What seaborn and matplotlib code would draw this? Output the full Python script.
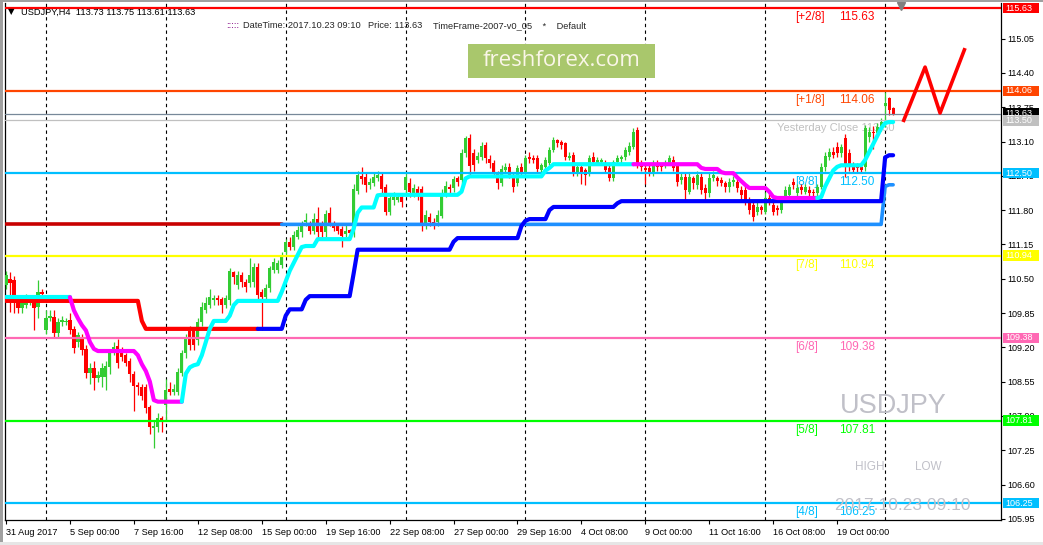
import numpy as np
import seaborn as sns
import matplotlib
matplotlib.use("Agg")
import matplotlib.pyplot as plt
from matplotlib.patches import Rectangle
import matplotlib.transforms as mtransforms

# USDJPY H4 bars, 31 Aug 2017 08:00 .. 23 Oct 2017 08:00 (index = bar number)
opens = [
    110.38, 110.49, 110.47, 110.13, 109.94, 110.00, 110.04, 110.13, 109.96, 110.25,
    109.53, 109.76, 109.78, 109.47, 109.68, 109.68, 109.72, 109.55, 109.30, 109.38,
    109.17, 108.71, 108.81, 108.62, 108.64, 108.64, 108.83, 109.15, 109.22, 109.15,
    109.05, 108.94, 108.69, 108.49, 108.45, 108.45, 108.07, 107.67, 107.69, 107.86,
    108.11, 108.41, 108.35, 108.35, 108.71, 109.09, 109.51, 109.53, 109.34, 109.68,
    109.91, 110.00, 110.10, 110.13, 110.12, 110.00, 110.10, 110.63, 110.38, 110.57,
    110.44, 110.42, 110.44, 110.72, 110.25, 110.15, 110.32, 110.66, 110.66, 110.76,
    111.01, 111.20, 111.10, 111.29, 111.38, 111.57, 111.50, 111.40, 111.63, 111.52,
    111.38, 111.74, 111.56, 111.50, 111.44, 111.35, 111.42, 111.36, 112.16, 112.45,
    112.43, 112.27, 112.31, 112.41, 112.45, 112.24, 111.76, 111.99, 111.99, 112.05,
    112.18, 112.31, 112.12, 112.20, 112.20, 111.56, 111.67, 111.57, 111.57, 111.69,
    112.10, 112.24, 112.22, 112.41, 112.37, 112.88, 113.17, 112.88, 112.75, 112.80,
    113.03, 112.77, 112.69, 112.50, 112.31, 112.56, 112.62, 112.46, 112.31, 112.62,
    112.50, 112.81, 112.79, 112.79, 112.56, 112.62, 112.69, 112.94, 113.13, 113.09,
    113.07, 112.79, 112.84, 112.52, 112.62, 112.56, 112.50, 112.81, 112.69, 112.71,
    112.69, 112.60, 112.41, 112.71, 112.77, 112.81, 112.90, 112.99, 113.32, 112.69,
    112.60, 112.60, 112.52, 112.69, 112.69, 112.65, 112.69, 112.75, 112.65, 112.37,
    112.43, 112.14, 112.41, 112.27, 112.43, 112.22, 112.12, 112.41, 112.41, 112.37,
    112.31, 112.24, 112.33, 112.33, 112.18, 112.18, 111.99, 111.90, 111.76, 111.86,
    111.76, 112.03, 111.90, 111.84, 111.80, 111.99, 112.09, 112.33, 112.12, 112.24,
    112.14, 112.18, 112.14, 112.12, 112.24, 112.62, 112.80, 112.90, 112.99, 112.88,
    113.17, 112.88, 112.65, 112.65, 112.62, 112.62, 113.18, 113.28, 113.26, 113.36,
    113.77, 113.92, 113.73,
]
highs = [
    110.65, 110.63, 110.55, 110.20, 110.20, 110.22, 110.15, 110.18, 110.47, 110.30,
    109.90, 109.90, 109.90, 109.75, 109.80, 109.75, 109.85, 109.60, 109.50, 109.45,
    109.25, 108.90, 108.95, 108.75, 108.90, 108.95, 109.15, 109.30, 109.35, 109.20,
    109.10, 109.00, 108.75, 108.55, 108.50, 108.50, 108.10, 107.80, 107.95, 107.90,
    108.60, 108.55, 108.50, 108.80, 109.15, 109.45, 109.60, 109.55, 109.75, 110.05,
    110.15, 110.30, 110.20, 110.20, 110.15, 110.20, 110.70, 110.65, 110.65, 110.62,
    110.50, 110.90, 110.80, 110.80, 110.30, 110.40, 110.75, 110.90, 110.85, 111.00,
    111.25, 111.30, 111.40, 111.50, 111.60, 111.75, 111.60, 111.75, 111.86, 111.60,
    111.80, 111.85, 111.60, 111.55, 111.50, 111.55, 111.45, 112.30, 112.55, 112.62,
    112.50, 112.40, 112.50, 112.55, 112.50, 112.30, 112.10, 112.15, 112.12, 112.10,
    112.50, 112.40, 112.30, 112.25, 112.25, 111.80, 111.75, 111.65, 111.80, 112.20,
    112.35, 112.30, 112.45, 112.45, 112.95, 113.20, 113.24, 112.95, 112.90, 113.10,
    113.10, 112.85, 112.75, 112.55, 112.65, 112.70, 112.70, 112.50, 112.65, 112.70,
    112.85, 112.90, 112.85, 112.85, 112.70, 112.80, 113.00, 113.18, 113.15, 113.12,
    113.10, 112.90, 112.90, 112.70, 112.70, 112.60, 112.85, 112.90, 112.80, 112.78,
    112.75, 112.65, 112.75, 112.85, 112.85, 113.00, 113.10, 113.35, 113.38, 112.75,
    112.65, 112.65, 112.75, 112.75, 112.70, 112.75, 112.85, 112.82, 112.70, 112.50,
    112.50, 112.50, 112.45, 112.55, 112.50, 112.30, 112.50, 112.55, 112.45, 112.42,
    112.35, 112.40, 112.45, 112.40, 112.25, 112.25, 112.05, 111.95, 111.95, 111.90,
    112.15, 112.10, 111.95, 111.90, 112.05, 112.25, 112.30, 112.40, 112.30, 112.30,
    112.30, 112.25, 112.20, 112.30, 112.70, 112.90, 112.98, 113.00, 113.10, 113.05,
    113.25, 112.95, 112.72, 112.70, 112.68, 113.42, 113.38, 113.40, 113.45, 113.55,
    114.03, 113.95, 113.75,
]
lows = [
    110.30, 109.87, 109.85, 109.85, 109.85, 109.95, 110.00, 109.53, 109.75, 110.15,
    109.45, 109.70, 109.40, 109.40, 109.60, 109.62, 109.45, 109.10, 109.20, 109.05,
    108.62, 108.50, 108.40, 108.55, 108.45, 108.40, 108.70, 109.05, 108.80, 108.95,
    108.85, 108.55, 108.00, 108.30, 108.20, 107.95, 107.55, 107.30, 107.60, 107.60,
    107.80, 108.30, 108.30, 108.30, 108.65, 109.00, 109.15, 109.15, 109.25, 109.60,
    109.85, 109.95, 110.00, 110.00, 109.85, 109.95, 110.00, 110.40, 110.30, 110.35,
    110.25, 110.35, 110.35, 110.10, 109.53, 110.05, 110.25, 110.60, 110.60, 110.70,
    110.95, 111.05, 111.05, 111.25, 111.30, 111.50, 111.35, 111.35, 111.30, 111.30,
    111.30, 111.50, 111.40, 111.35, 111.10, 111.30, 111.30, 111.30, 112.10, 112.30,
    112.15, 112.20, 112.25, 112.35, 112.10, 111.70, 111.70, 111.90, 111.95, 111.85,
    112.10, 112.05, 112.05, 112.00, 111.40, 111.45, 111.50, 111.45, 111.50, 111.65,
    112.05, 112.10, 112.15, 112.25, 112.30, 112.80, 112.45, 112.55, 112.70, 112.75,
    112.70, 112.60, 112.45, 112.20, 112.25, 112.50, 112.40, 112.15, 112.25, 112.45,
    112.45, 112.70, 112.70, 112.50, 112.50, 112.55, 112.65, 112.90, 113.00, 112.95,
    112.75, 112.75, 112.45, 112.45, 112.30, 112.27, 112.45, 112.65, 112.65, 112.68,
    112.50, 112.35, 112.35, 112.65, 112.70, 112.75, 112.85, 112.95, 112.60, 112.55,
    112.30, 112.45, 112.45, 112.55, 112.55, 112.60, 112.65, 112.55, 112.25, 112.30,
    111.98, 112.10, 112.20, 112.20, 112.10, 112.00, 112.05, 112.35, 112.25, 112.25,
    112.15, 112.15, 112.25, 112.15, 112.00, 111.90, 111.72, 111.60, 111.70, 111.72,
    111.72, 111.90, 111.70, 111.70, 111.75, 111.95, 112.05, 112.20, 112.05, 112.10,
    112.10, 112.05, 112.05, 112.05, 112.20, 112.55, 112.75, 112.78, 112.80, 112.80,
    112.42, 112.55, 112.50, 112.52, 112.50, 112.55, 113.10, 112.95, 113.20, 113.30,
    113.37, 113.60, 113.61,
]
closes = [
    110.57, 110.42, 110.04, 109.94, 110.10, 110.12, 110.10, 109.94, 110.25, 110.21,
    109.76, 109.80, 109.47, 109.68, 109.72, 109.70, 109.53, 109.19, 109.43, 109.15,
    108.71, 108.81, 108.62, 108.67, 108.81, 108.85, 109.09, 109.20, 108.90, 109.02,
    108.90, 108.69, 108.47, 108.45, 108.28, 108.05, 107.69, 107.71, 107.86, 107.82,
    108.39, 108.35, 108.41, 108.73, 109.09, 109.38, 109.24, 109.24, 109.68, 109.96,
    110.04, 110.15, 110.13, 110.10, 110.00, 110.13, 110.64, 110.53, 110.57, 110.44,
    110.34, 110.57, 110.72, 110.19, 110.15, 110.32, 110.70, 110.82, 110.80, 110.93,
    111.20, 111.10, 111.33, 111.42, 111.50, 111.61, 111.40, 111.63, 111.38, 111.38,
    111.72, 111.56, 111.46, 111.40, 111.31, 111.40, 111.36, 112.20, 112.46, 112.39,
    112.27, 112.33, 112.43, 112.46, 112.20, 111.76, 112.03, 112.05, 112.05, 111.95,
    112.43, 112.14, 112.22, 112.09, 111.56, 111.71, 111.57, 111.56, 111.71, 112.12,
    112.26, 112.20, 112.39, 112.33, 112.88, 113.17, 112.64, 112.65, 112.82, 113.01,
    112.79, 112.69, 112.50, 112.31, 112.58, 112.62, 112.46, 112.24, 112.60, 112.50,
    112.79, 112.77, 112.75, 112.58, 112.65, 112.75, 112.94, 113.13, 113.07, 113.03,
    112.81, 112.82, 112.50, 112.62, 112.50, 112.46, 112.79, 112.71, 112.75, 112.75,
    112.56, 112.41, 112.71, 112.79, 112.81, 112.94, 113.01, 113.28, 112.69, 112.62,
    112.56, 112.52, 112.65, 112.62, 112.62, 112.69, 112.79, 112.60, 112.33, 112.43,
    112.18, 112.43, 112.31, 112.46, 112.18, 112.12, 112.41, 112.46, 112.35, 112.31,
    112.24, 112.33, 112.37, 112.22, 112.09, 111.99, 111.80, 111.67, 111.86, 111.80,
    112.03, 111.95, 111.76, 111.80, 111.99, 112.18, 112.24, 112.27, 112.22, 112.18,
    112.24, 112.12, 112.12, 112.24, 112.62, 112.82, 112.90, 112.84, 112.88, 112.99,
    112.62, 112.62, 112.56, 112.60, 112.56, 113.36, 113.28, 113.26, 113.37, 113.47,
    113.83, 113.70, 113.63,
]

# cyan / magenta trailing line
trail = ([110.15] * 16 + [110.15, 109.90, 109.75, 109.62, 109.52, 109.30, 109.17]
         + [109.13] * 10 + [109.05, 108.88, 108.75, 108.55, 108.20] + [108.17] * 7
         + [108.70, 108.82, 108.86, 108.88, 109.05, 109.30, 109.55] + [109.70] * 4
         + [109.80, 110.00] + [110.08] * 11
         + [110.25, 110.45, 110.65, 110.80, 110.95, 111.10] + [111.12] * 3
         + [111.25] * 9 + [111.45, 111.75] + [111.85] * 4 + [112.08] + [112.09] * 20
         + [112.15, 112.40] + [112.44] * 19 + [112.55, 112.60] + [112.67] * 37
         + [112.60] + [112.58] * 4 + [112.52] + [112.50] * 3 + [112.42, 112.35, 112.28]
         + [112.22] * 5 + [112.15, 112.05] + [112.03] * 11
         + [112.05, 112.25, 112.40, 112.55, 112.62] + [112.65] * 6
         + [112.75, 112.90, 113.05, 113.20, 113.35, 113.45, 113.47, 113.47])
trail_switch = [16, 44, 157, 203]          # bars where the line changes colour
trail_colors = ["#00FFFF", "#FF00FF"]      # up, down

# red / blue trend line
trend = ([110.08] * 34 + [109.70] + [109.55] * 29 + [109.55] * 6 + [109.80]
         + [109.92] * 4 + [110.10] + [110.17] * 11 + [110.60] + [111.05] * 24
         + [111.20] + [111.27] * 16 + [111.50, 111.60] + [111.63] * 5 + [111.80]
         + [111.86] * 16 + [111.93] + [111.97] * 66 + [112.80, 112.84, 112.84])
trend_switch = 63

# dark red / dodger blue support line
support = [111.53] * 220 + [112.25, 112.28, 112.28]
support_switch = 69

# Murrey math levels
mm_names = ["[+2/8]", "[+1/8]", "[8/8]", "[7/8]", "[6/8]", "[5/8]", "[4/8]"]
mm_levels = [115.63, 114.06, 112.50, 110.94, 109.38, 107.81, 106.25]
mm_colors = ["#FF0000", "#FF4500", "#00BFFF", "#FFFF00", "#FF69B4", "#00FF00", "#00BFFF"]

bid_price = 113.63
yesterday_close = 113.50

y_ticks = [105.95, 106.60, 107.25, 107.90, 108.55, 109.20, 109.85, 110.50,
           111.15, 111.80, 112.45, 113.10, 113.75, 114.40, 115.05]
x_tick_bars = [0, 16, 32, 48, 64, 80, 96, 112, 128, 144, 160, 176, 192, 208]
x_tick_labels = ["31 Aug 2017", "5 Sep 00:00", "7 Sep 16:00", "12 Sep 08:00",
                 "15 Sep 00:00", "19 Sep 16:00", "22 Sep 08:00", "27 Sep 00:00",
                 "29 Sep 16:00", "4 Oct 08:00", "9 Oct 00:00", "11 Oct 16:00",
                 "16 Oct 08:00", "19 Oct 00:00"]
week_starts = [10, 40, 70, 100, 130, 160, 190, 220]

# hand drawn forecast zigzag
zig_x = [224.5, 230.0, 233.75, 240.0]
zig_y = [113.47, 114.51, 113.64, 114.87]

# ---------------------------------------------------------------------------
sns.set_style("white", rc={"axes.edgecolor": "black", "xtick.color": "black",
                           "ytick.color": "black"})
plt.rcParams["font.family"] = ["Liberation Sans", "DejaVu Sans"]

W, H = 1043, 545
fig = plt.figure(figsize=(W / 100, H / 100), dpi=100)
ax = fig.add_axes([5 / W, 25 / H, 996 / W, 517 / H])

def fpx(x, y):
    return x / W, 1 - y / H

o = np.array(opens); h = np.array(highs); l = np.array(lows); c = np.array(closes)
idx = np.arange(len(o))
up = c >= o
ccol = np.where(up, "#33CC33", "#FF0000")

# separators
for b in week_starts:
    ax.axvline(b, color="black", lw=0.8, ls=(0, (3, 3)), zorder=1)

# candles
ax.vlines(idx, np.minimum(l, np.minimum(o, c)), np.maximum(h, np.maximum(o, c)),
          colors=ccol, lw=0.9, zorder=3)
body = np.maximum(np.abs(c - o), 0.02)
ax.bar(idx, body, bottom=np.minimum(o, c), width=0.8, color=ccol, lw=0, zorder=3)

# horizontal levels
for lv, col in zip(mm_levels, mm_colors):
    ax.axhline(lv, color=col, lw=1.6, zorder=4)
ax.axhline(bid_price, color="#778899", lw=0.9, zorder=4)
ax.axhline(yesterday_close, color="#C0C0C0", lw=0.9, zorder=4)

def two_colour(vals, switches, colours, lw, z):
    bounds = [0] + list(switches) + [len(vals) - 1]
    for k in range(len(bounds) - 1):
        a, b = bounds[k], bounds[k + 1]
        sns.lineplot(x=idx[a:b + 1], y=vals[a:b + 1], color=colours[k % 2],
                     lw=lw, ax=ax, zorder=z)

two_colour(np.array(support), [support_switch], ["#C80000", "#1E90FF"], 2.6, 5)
two_colour(np.array(trend), [trend_switch], ["#FF0000", "#0000FF"], 3.0, 5)
two_colour(np.array(trail), trail_switch, trail_colors, 3.0, 6)

ax.plot(zig_x, zig_y, color="#FF0000", lw=2.6, zorder=7, solid_capstyle="butt")
ax.plot([224], [115.67], marker="v", color="#808080", ms=6, clip_on=False, zorder=8)

# level labels inside the chart
ppx = 52.77  # pixels per yen
for name, lv, col in zip(mm_names, mm_levels, mm_colors):
    ax.text(197.5, lv - 9 / ppx, name, color=col, fontsize=8.5, va="center",
            ha="left", zorder=2)
    ax.text(208.5, lv - 9 / ppx, f"{lv:.2f}", color=col, fontsize=8.5,
            va="center", ha="left", zorder=2)
ax.text(193, yesterday_close - 8 / ppx, f"Yesterday Close {yesterday_close:.2f}",
        color="#C0C0C0", fontsize=8, va="center", ha="left", zorder=2)

ax.set_xlim(-0.25, 249)
ax.set_ylim(105.928, 115.725)

# axes
ax.yaxis.tick_right()
ax.set_yticks(y_ticks)
ax.set_yticklabels([f"{v:.2f}" for v in y_ticks])
ax.set_xticks(x_tick_bars)
ax.set_xticklabels(x_tick_labels)
for lab in ax.get_xticklabels():
    lab.set_horizontalalignment("left")
ax.tick_params(axis="y", right=True, left=False, length=3, width=0.8, pad=1.5,
               labelsize=6.5, direction="out")
ax.tick_params(axis="x", bottom=True, length=3, width=0.8, pad=3,
               labelsize=6.6, direction="out")
for s in ["left", "bottom", "right"]:
    ax.spines[s].set_linewidth(0.9)
    ax.spines[s].set_color("black")
ax.spines["top"].set_visible(False)
ax.set_xlabel("")
ax.set_ylabel("")

# price boxes on the right scale
blend = mtransforms.blended_transform_factory(ax.transAxes, ax.transData)
boxes = [(lv, col) for lv, col in zip(mm_levels, mm_colors)]
boxes += [(bid_price, "#000000"), (yesterday_close, "#C0C0C0")]
bh = 10.5 / ppx
for lv, col in boxes:
    ax.add_patch(Rectangle((1.002, lv - bh / 2), 0.036, bh, transform=blend,
                           facecolor=col, edgecolor="none", clip_on=False, zorder=9))
    ax.text(1.0045, lv, f"{lv:.2f}", transform=blend, color="white", fontsize=6.5,
            va="center", ha="left", clip_on=False, zorder=10)

# watermark style texts
gray = "#C0C0C8"
fig.text(*fpx(840, 406), "USDJPY", fontsize=19.5, color=gray, va="center", ha="left", zorder=0.5)
fig.text(*fpx(855, 467), "HIGH", fontsize=8.5, color=gray, va="center", ha="left", zorder=0.5)
fig.text(*fpx(915, 467), "LOW", fontsize=8.5, color=gray, va="center", ha="left", zorder=0.5)
fig.text(*fpx(835, 506), "2017.10.23 09:10", fontsize=12.5, color=gray, va="center",
         ha="left", zorder=0.5)

# header
fig.text(*fpx(8, 12), "▼", fontsize=6, color="black", va="center", ha="left",
         family=["DejaVu Sans"])
fig.text(*fpx(21, 12), "USDJPY,H4  113.73 113.75 113.61 113.63", fontsize=6.7,
         color="black", va="center", ha="left")
fig.text(*fpx(226, 26), ":::::", fontsize=6.7, color="#800080", va="center", ha="left")
fig.text(*fpx(243, 26), "DateTime: 2017.10.23 09:10", fontsize=6.7, va="center", ha="left")
fig.text(*fpx(368, 26), "Price: 113.63", fontsize=6.7, va="center", ha="left")
fig.text(*fpx(433, 26), "TimeFrame-2007-v0_05    *    Default", fontsize=6.7,
         va="center", ha="left")

# freshforex banner
fig.patches.append(Rectangle(fpx(468, 78), 187 / W, 34 / H, transform=fig.transFigure,
                             facecolor="#A9C76C", edgecolor="none", zorder=20))
fig.text(*fpx(561.5, 61), "freshforex.com", fontsize=16, color="#FAF6E8",
         family=["Open Sans", "DejaVu Sans"], va="center", ha="center", zorder=21)

# window frame
fig.patches.append(Rectangle((0, 0), 3 / W, 1, transform=fig.transFigure,
                             facecolor="#A0A0A0", edgecolor="none", zorder=30))
fig.patches.append(Rectangle((0, 1 - 2 / H), 1, 2 / H, transform=fig.transFigure,
                             facecolor="#A0A0A0", edgecolor="none", zorder=30))
fig.patches.append(Rectangle((0, 0), 1, 3 / H, transform=fig.transFigure,
                             facecolor="#E6E6E6", edgecolor="none", zorder=30))

fig.savefig("out.png", dpi=100)
